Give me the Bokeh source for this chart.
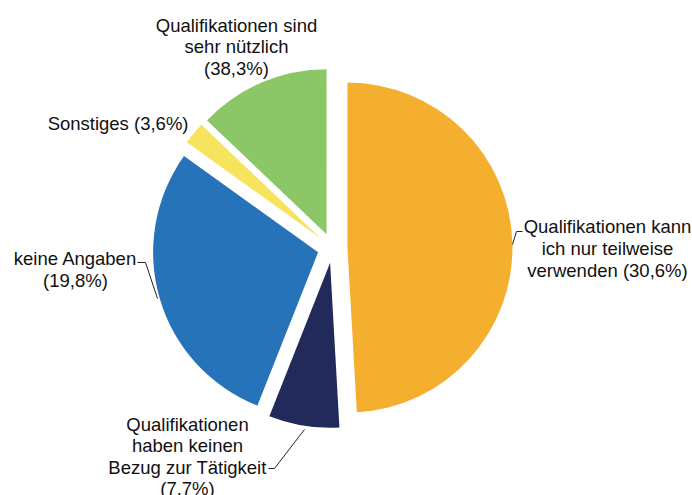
import math
from bokeh.plotting import figure
from bokeh.models import Range1d, ColumnDataSource
from bokeh.core.properties import value
from bokeh.embed import file_html
from bokeh.resources import INLINE

# Data (slice shares as drawn, clockwise from 12 o'clock)
categories = [
    "Qualifikationen kann ich nur teilweise verwenden",
    "Qualifikationen haben keinen Bezug zur Tätigkeit",
    "keine Angaben",
    "Sonstiges",
    "Qualifikationen sind sehr nützlich",
]
shares = [49.1, 6.9, 28.9, 2.2, 12.9]
colors = ["#F4AF2E", "#222A5C", "#2773B9", "#F6E35E", "#8BC766"]
label_texts = [
    "Qualifikationen kann\nich nur teilweise\nverwenden (30,6%)",
    "Qualifikationen\nhaben keinen\nBezug zur Tätigkeit\n(7,7%)",
    "keine Angaben\n(19,8%)",
    "Sonstiges (3,6%)",
    "Qualifikationen sind\nsehr nützlich\n(38,3%)",
]

W, H = 692, 495
SH = 495  # screen height used to flip y
p = figure(width=W, height=H, output_backend="svg", toolbar_location=None,
           x_range=Range1d(0, W), y_range=Range1d(SH - H, SH),
           min_border=0)
p.axis.visible = False
p.grid.visible = False
p.outline_line_color = None
p.background_fill_color = "white"
p.border_fill_color = "white"

cx, cy = 332, SH - 247.5
R = 165
explode = 15

total = sum(shares)
xs, ys, starts, ends = [], [], [], []
cum = 0.0
for s in shares:
    a0 = cum / total * 2 * math.pi
    a1 = (cum + s) / total * 2 * math.pi
    mid = (a0 + a1) / 2
    xs.append(cx + explode * math.sin(mid))
    ys.append(cy + explode * math.cos(mid))
    starts.append(math.pi / 2 - a0)
    ends.append(math.pi / 2 - a1)
    cum += s

src = ColumnDataSource(dict(x=xs, y=ys, start=starts, end=ends, color=colors))
p.wedge(x="x", y="y", radius=R, start_angle="start", end_angle="end",
        direction="clock", fill_color="color", line_color=None, source=src)

# Labels (screen positions)
lab_x = [607, 187, 75, 188, 236]
lab_y = [248, 456, 269, 123, 46.5]
lab_align = ["center", "center", "center", "right", "center"]
p.text(x=lab_x, y=[SH - v for v in lab_y], text=label_texts,
       text_align=lab_align, text_baseline="middle",
       text_font=value("Liberation Sans"), text_font_size="18.5px",
       text_line_height=1.03, text_color="#111111")

# Leader lines
leaders = [
    ([512, 516, 522], [244, 231, 231]),
    ([137, 145, 157], [262, 262, 298]),
    ([268, 274, 304], [468, 468, 429]),
]
for lx, ly in leaders:
    p.line(lx, [SH - v for v in ly], line_color="#222222", line_width=1)

open("out.html", "w").write(file_html(p, INLINE))
